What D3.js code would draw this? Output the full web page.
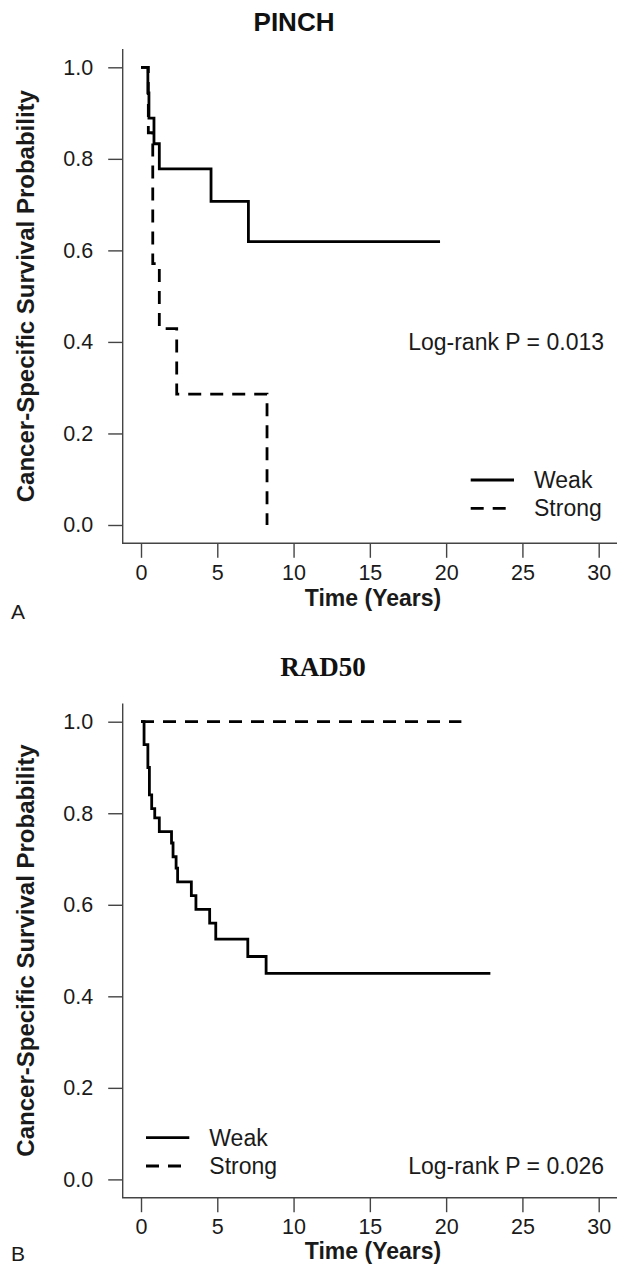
<!DOCTYPE html>
<html>
<head>
<meta charset="utf-8">
<script src="https://cdn.jsdelivr.net/npm/d3@7/dist/d3.min.js"></script>
<style>
  body { margin: 0; background: #fff; }
</style>
</head>
<body>
<script>
// tick labels / legend
const xTicks = [0, 5, 10, 15, 20, 25, 30];
const yTicks = [0, 0.2, 0.4, 0.6, 0.8, 1.0];
const groups = ["Weak", "Strong"];

// PINCH (panel A): step times (years) and survival after each step, last entry = end of follow-up
const pinchWeakTime = [0, 0.45, 0.52, 0.85, 1.2, 4.59, 7.04, 19.6];
const pinchWeakSurv = [1, 0.944, 0.889, 0.833, 0.778, 0.707, 0.619, 0.619];
const pinchStrongTime = [0, 0.48, 0.77, 1.2, 2.34, 8.26];
const pinchStrongSurv = [1, 0.857, 0.571, 0.429, 0.286, 0];

// RAD50 (panel B)
const radWeakTime = [0, 0.2, 0.45, 0.55, 0.7, 0.9, 1.2, 2.0, 2.1, 2.3, 2.4, 3.3, 3.6, 4.5, 4.9, 7.0, 8.2, 22.9];
const radWeakSurv = [1, 0.95, 0.90, 0.84, 0.81, 0.79, 0.76, 0.735, 0.705, 0.68, 0.65, 0.62, 0.59, 0.56, 0.525, 0.487, 0.45, 0.45];
const radStrongTime = [0, 21.0];
const radStrongSurv = [1, 1];

const W = 625, H = 1266;
const font = "'Liberation Sans', Arial, sans-serif";
const ink = "#1a1a1a";
const axisCol = "#444";
const dash = "13,9";

const svg = d3.select("body").append("svg")
  .attr("width", W)
  .attr("height", H)
  .style("font-family", font);

function drawPanel(cfg) {
  const left = 122.7, right = 617;
  const top = cfg.top, bottom = cfg.top + 494.3;

  // R style: 4% padding around the data range
  const x = d3.scaleLinear().domain([-1.2, 31.2]).range([left, right]);
  const y = d3.scaleLinear().domain([-0.04, 1.04]).range([bottom, top]);

  const g = svg.append("g");

  // L-shaped box
  g.append("path")
    .attr("d", `M${left},${top}V${bottom}H${right}`)
    .attr("fill", "none")
    .attr("stroke", axisCol)
    .attr("stroke-width", 1.4);

  const yAxis = g.append("g")
    .attr("transform", `translate(${left},0)`)
    .call(d3.axisLeft(y).tickValues(yTicks).tickFormat(d3.format(".1f")).tickSize(14.5).tickPadding(15));
  const xAxis = g.append("g")
    .attr("transform", `translate(0,${bottom})`)
    .call(d3.axisBottom(x).tickValues(xTicks).tickSize(14.5).tickPadding(7));

  [yAxis, xAxis].forEach(a => {
    a.select(".domain").remove();
    a.selectAll(".tick line").attr("stroke", axisCol).attr("stroke-width", 1.4);
    a.selectAll(".tick text")
      .attr("fill", ink)
      .style("font-family", font)
      .style("font-size", "21.5px");
  });

  // axis titles
  g.append("text")
    .attr("x", 373)
    .attr("y", bottom + cfg.xTitleOff)
    .attr("text-anchor", "middle")
    .attr("fill", ink)
    .style("font-size", "23px")
    .style("font-weight", "bold")
    .text("Time (Years)");

  g.append("text")
    .attr("transform", `translate(34,${(top + bottom) / 2}) rotate(-90)`)
    .attr("text-anchor", "middle")
    .attr("fill", ink)
    .style("font-size", "24px")
    .style("font-weight", "bold")
    .text("Cancer-Specific Survival Probability");

  // panel title
  g.append("text")
    .attr("x", cfg.titleX)
    .attr("y", cfg.titleY)
    .attr("text-anchor", "middle")
    .attr("fill", "#111")
    .style("font-family", cfg.titleFont)
    .style("font-size", cfg.titleSize)
    .style("font-weight", "bold")
    .text(cfg.title);

  // panel letter
  g.append("text")
    .attr("x", 18)
    .attr("y", cfg.letterY)
    .attr("text-anchor", "middle")
    .attr("fill", ink)
    .style("font-size", "21px")
    .text(cfg.letter);

  // survival curves
  const line = d3.line()
    .x(d => x(d[0]))
    .y(d => y(d[1]))
    .curve(d3.curveStepAfter);

  cfg.curves.forEach(c => {
    g.append("path")
      .datum(d3.zip(c.time, c.surv))
      .attr("d", line)
      .attr("fill", "none")
      .attr("stroke", "#000")
      .attr("stroke-width", 2.8)
      .attr("stroke-dasharray", c.dashed ? dash : null);
  });

  // legend
  const lg = g.append("g");
  groups.forEach((name, i) => {
    const ly = cfg.legendY + i * 28.3;
    lg.append("line")
      .attr("x1", cfg.legendX).attr("x2", cfg.legendX + 43.3)
      .attr("y1", ly).attr("y2", ly)
      .attr("stroke", "#000")
      .attr("stroke-width", 2.8)
      .attr("stroke-dasharray", i === 1 ? dash : null);
    lg.append("text")
      .attr("x", cfg.legendX + 63.3)
      .attr("y", ly)
      .attr("dy", "0.35em")
      .attr("fill", ink)
      .style("font-size", "23px")
      .text(name);
  });

  g.append("text")
    .attr("x", 604)
    .attr("y", cfg.pY)
    .attr("dy", "0.35em")
    .attr("text-anchor", "end")
    .attr("fill", ink)
    .style("font-size", "23px")
    .text(cfg.pText);
}

drawPanel({
  top: 49,
  title: "PINCH",
  titleX: 294, titleY: 31,
  titleFont: font, titleSize: "26px",
  letter: "A", letterY: 619,
  xTitleOff: 63,
  curves: [
    { time: pinchWeakTime, surv: pinchWeakSurv, dashed: false },
    { time: pinchStrongTime, surv: pinchStrongSurv, dashed: true }
  ],
  legendX: 470.7, legendY: 480,
  pY: 342, pText: "Log-rank P = 0.013"
});

drawPanel({
  top: 703.4,
  title: "RAD50",
  titleX: 323, titleY: 676,
  titleFont: "'Liberation Serif', 'Times New Roman', serif", titleSize: "27px",
  letter: "B", letterY: 1261,
  xTitleOff: 61.5,
  curves: [
    { time: radWeakTime, surv: radWeakSurv, dashed: false },
    { time: radStrongTime, surv: radStrongSurv, dashed: true }
  ],
  legendX: 146, legendY: 1137.7,
  pY: 1166, pText: "Log-rank P = 0.026"
});
</script>
</body>
</html>
